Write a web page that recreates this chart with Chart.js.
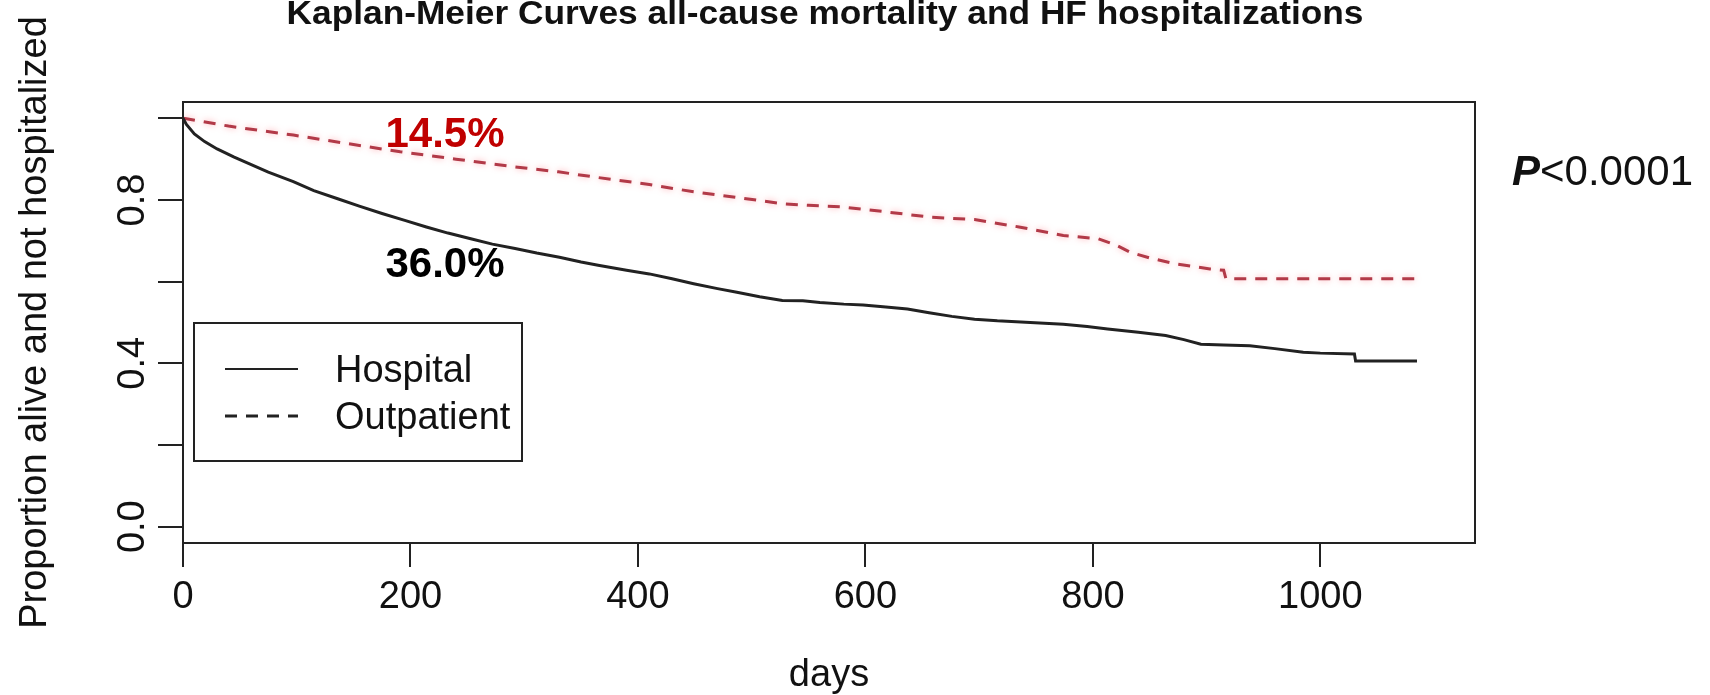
<!DOCTYPE html>
<html>
<head>
<meta charset="utf-8">
<title>Kaplan-Meier curves</title>
<script src="https://cdn.jsdelivr.net/npm/chart.js@4.4.1/dist/chart.umd.min.js"></script>
<style>
  html, body { margin: 0; padding: 0; background: #fff; }
  canvas { display: block; }
</style>
</head>
<body>
<canvas id="km" width="1710" height="695"></canvas>
<script>
const chartTitle = 'Kaplan-Meier Curves all-cause mortality and HF hospitalizations';
const seriesNames = ['Hospital', 'Outpatient'];

// survival estimates (proportion alive and not hospitalized) by follow-up day
const hospitalDays = [0, 3, 10, 19, 30, 45, 58, 75, 97, 115, 136, 155, 175, 195, 214, 233, 253, 272, 292, 311,
  331, 350, 365, 390, 410, 430, 449, 470, 487, 507, 527, 545, 560, 581, 598, 618, 637, 656, 676, 696,
  716, 745, 774, 795, 813, 840, 864, 880, 895, 915, 938, 960, 985, 1000, 1030, 1031, 1085];
const hospitalSurv = [1.0, 0.985, 0.962, 0.943, 0.925, 0.905, 0.889, 0.868, 0.845, 0.823, 0.803, 0.785, 0.767, 0.75, 0.734, 0.719, 0.705, 0.692, 0.681, 0.67,
  0.66, 0.648, 0.64, 0.628, 0.619, 0.607, 0.595, 0.583, 0.574, 0.563, 0.554, 0.553, 0.549, 0.545, 0.543, 0.538, 0.533, 0.524, 0.515, 0.508,
  0.504, 0.5, 0.496, 0.49, 0.484, 0.476, 0.468, 0.458, 0.447, 0.445, 0.443, 0.436, 0.427, 0.425, 0.423, 0.406, 0.406];

const outpatientDays = [0, 3, 40, 97, 145, 191, 240, 292, 330, 365, 410, 449, 490, 527, 550, 579, 618, 657, 696, 735,
  774, 805, 820, 833, 850, 872, 903, 915, 917, 1085];
const outpatientSurv = [1.0, 0.999, 0.981, 0.959, 0.938, 0.918, 0.9, 0.881, 0.869, 0.855, 0.838, 0.82, 0.805, 0.791, 0.787, 0.783, 0.771, 0.758, 0.752, 0.734,
  0.713, 0.705, 0.69, 0.672, 0.658, 0.644, 0.631, 0.628, 0.607, 0.607];

const xTicks = [0, 200, 400, 600, 800, 1000];
const yTicks = [0, 0.2, 0.4, 0.6, 0.8, 1.0];
const yTickLabels = [0, 0.4, 0.8];

const eventRates = ['36.0%', '14.5%'];
const pText = ['P', '<0.0001'];

const FONT = "'Liberation Sans', Arial, Helvetica, sans-serif";
const INK = '#222';
const OUT_COLOR = '#b23a48';

function toPoints(days, surv) {
  return days.map((d, i) => ({ x: d, y: surv[i] }));
}

// R-style box, rotated y labels, legend and text annotations
const kmDecor = {
  id: 'kmDecor',
  beforeDatasetDraw(chart, args) {
    const ds = chart.data.datasets[args.index];
    chart.ctx.save();
    if (ds.glow) {
      chart.ctx.shadowColor = ds.glow;
      chart.ctx.shadowBlur = 6;
    }
  },
  afterDatasetDraw(chart) {
    chart.ctx.restore();
  },
  afterDraw(chart) {
    const { ctx, chartArea: area, scales } = chart;
    const xs = scales.x, ys = scales.y;
    ctx.save();

    // frame
    ctx.strokeStyle = INK;
    ctx.lineWidth = 2;
    ctx.strokeRect(area.left, area.top, area.right - area.left, area.bottom - area.top);

    // y tick labels, parallel to the axis
    ctx.fillStyle = '#111';
    ctx.font = '38px ' + FONT;
    ctx.textAlign = 'center';
    ctx.textBaseline = 'middle';
    yTickLabels.forEach(v => {
      ctx.save();
      ctx.translate(area.left - 49, ys.getPixelForValue(v));
      ctx.rotate(-Math.PI / 2);
      ctx.fillText(v.toFixed(1), 0, 0);
      ctx.restore();
    });

    // title (squeezed to its box width)
    ctx.font = 'bold 33px ' + FONT;
    ctx.textBaseline = 'alphabetic';
    const tw = ctx.measureText(chartTitle).width;
    ctx.save();
    ctx.translate(825, 24);
    ctx.scale(1077 / tw, 1);
    ctx.fillText(chartTitle, 0, 0);
    ctx.restore();

    // legend
    const lg = { left: area.left + 11, top: 323, right: 522, bottom: 461 };
    ctx.lineWidth = 2;
    ctx.strokeStyle = INK;
    ctx.strokeRect(lg.left, lg.top, lg.right - lg.left, lg.bottom - lg.top);
    const rows = [369, 416];
    chart.data.datasets.forEach((ds, i) => {
      ctx.beginPath();
      ctx.strokeStyle = INK;
      ctx.lineWidth = ds.borderDash.length ? 3 : 2;
      ctx.setLineDash(ds.borderDash);
      ctx.moveTo(lg.left + 31, rows[i]);
      ctx.lineTo(lg.left + 104, rows[i]);
      ctx.stroke();
      ctx.setLineDash([]);
      ctx.fillStyle = '#111';
      ctx.font = '38px ' + FONT;
      ctx.textAlign = 'left';
      ctx.textBaseline = 'middle';
      ctx.fillText(ds.label, lg.left + 141, rows[i] + 3);
    });

    // event rates
    ctx.font = 'bold 42px ' + FONT;
    ctx.textAlign = 'left';
    ctx.textBaseline = 'alphabetic';
    const rx = xs.getPixelForValue(178);
    ctx.fillStyle = '#000';
    ctx.fillText(eventRates[0], rx, ys.getPixelForValue(0.612));
    ctx.fillStyle = '#c00000';
    ctx.fillText(eventRates[1], rx, ys.getPixelForValue(0.93));

    // p-value
    ctx.fillStyle = '#111';
    const px = area.right + 37, py = 185;
    ctx.font = 'italic bold 42px ' + FONT;
    ctx.fillText(pText[0], px, py);
    const pw = ctx.measureText(pText[0]).width;
    ctx.font = '42px ' + FONT;
    ctx.fillText(pText[1], px + pw, py);

    ctx.restore();
  }
};

new Chart(document.getElementById('km'), {
  type: 'line',
  data: {
    datasets: [
      {
        label: seriesNames[0],
        data: toPoints(hospitalDays, hospitalSurv),
        borderColor: INK,
        borderWidth: 3,
        borderDash: [],
        pointRadius: 0,
        tension: 0,
        fill: false
      },
      {
        label: seriesNames[1],
        data: toPoints(outpatientDays, outpatientSurv),
        borderColor: OUT_COLOR,
        borderWidth: 3,
        borderDash: [12, 9],
        glow: 'rgba(255, 110, 120, 0.55)',
        pointRadius: 0,
        tension: 0,
        fill: false
      }
    ]
  },
  options: {
    responsive: false,
    animation: false,
    devicePixelRatio: 1,
    layout: { padding: { top: 102, right: 235, left: 0, bottom: 0 } },
    plugins: {
      legend: { display: false },
      tooltip: { enabled: false }
    },
    scales: {
      x: {
        type: 'linear',
        min: 0,
        max: 1136,
        afterBuildTicks: s => { s.ticks = xTicks.map(v => ({ value: v })); },
        afterFit: s => { s.height = 152; },
        grid: { drawOnChartArea: false, drawTicks: true, tickLength: 24, color: INK, lineWidth: 2 },
        border: { display: true, color: INK, width: 2 },
        ticks: {
          color: '#111',
          font: { family: FONT, size: 38 },
          padding: 8,
          maxRotation: 0,
          callback: v => String(v)
        },
        title: { display: true, text: 'days', color: '#111', font: { family: FONT, size: 38, lineHeight: 1 }, padding: 0 }
      },
      y: {
        type: 'linear',
        min: -0.04,
        max: 1.04,
        afterBuildTicks: s => { s.ticks = yTicks.map(v => ({ value: v })); },
        afterFit: s => { s.width = 183; },
        grid: { drawOnChartArea: false, drawTicks: true, tickLength: 25, color: INK, lineWidth: 2 },
        border: { display: true, color: INK, width: 2 },
        ticks: { display: false },
        title: {
          display: true,
          text: 'Proportion alive and not hospitalized',
          color: '#111',
          font: { family: FONT, size: 38, lineHeight: 1 },
          padding: { top: 17, bottom: 0 }
        }
      }
    }
  },
  plugins: [kmDecor]
});
</script>
</body>
</html>
